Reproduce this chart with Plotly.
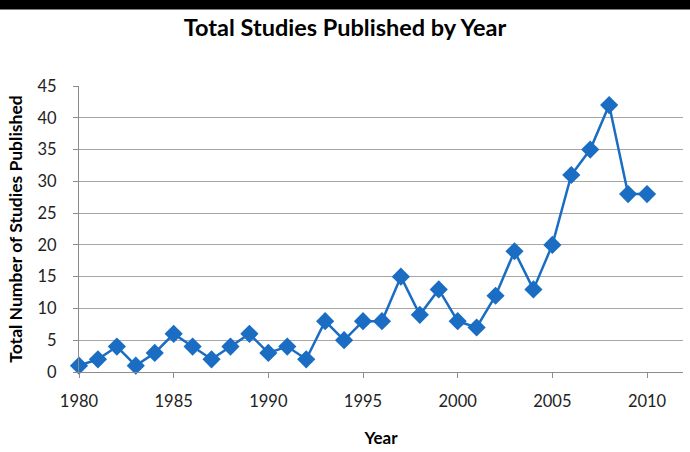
import plotly.graph_objects as go

years = list(range(1980, 2011))
studies = [1, 2, 4, 1, 3, 6, 4, 2, 4, 6, 3, 4, 2, 8, 5, 8, 8, 15, 9, 13,
           8, 7, 12, 19, 13, 20, 31, 35, 42, 28, 28]
x_ticks = [1980, 1985, 1990, 1995, 2000, 2005, 2010]
y_ticks = [0, 5, 10, 15, 20, 25, 30, 35, 40, 45]

BLUE = "#1A6DC3"
FONT = "Lato"

fig = go.Figure()
fig.add_trace(go.Scatter(
    x=years, y=studies, mode="lines+markers",
    line=dict(color=BLUE, width=2.5),
    marker=dict(symbol="diamond", size=14, color=BLUE),
    showlegend=False, cliponaxis=False,
))

L, R, T, B = 79, 7, 86, 78
H = 452
ph = H - T - B

fig.update_layout(
    width=690, height=452,
    margin=dict(l=L, r=R, t=T, b=B),
    paper_bgcolor="white", plot_bgcolor="white",
    title=dict(text="<b>Total Studies Published by Year</b>",
               font=dict(family=FONT, size=23.5, color="black"),
               x=0.5, xanchor="center", y=1 - 28 / H, yanchor="middle"),
    font=dict(family=FONT, size=16, color="#222222"),
    xaxis=dict(range=[1980, 2011.9], tickvals=x_ticks, showgrid=False,
               showline=True, linecolor="#8C8C8C", linewidth=1,
               ticks="outside", ticklen=5, tickcolor="#8C8C8C",
               ticklabelstandoff=9,
               tickfont=dict(family=FONT, size=16.5, color="#222222"),
               title=dict(text="<b>Year</b>", font=dict(family=FONT, size=17, color="black"), standoff=22),
               zeroline=False),
    yaxis=dict(range=[0, 45], tickvals=y_ticks, showgrid=True,
               gridcolor="#A6A6A6", gridwidth=1,
               showline=True, linecolor="#8C8C8C", linewidth=1,
               ticks="outside", ticklen=5, tickcolor="#8C8C8C",
               ticklabelstandoff=13,
               tickfont=dict(family=FONT, size=16.5, color="#222222"),
               title=dict(text="<b>Total Number of Studies Published</b>",
                          font=dict(family=FONT, size=17.5, color="black"), standoff=10),
               zeroline=False),
    shapes=[dict(type="rect", xref="paper", yref="paper",
                 x0=-L / 604 - 0.01, x1=1 + R / 604 + 0.01,
                 y0=1 + (T - 9) / ph, y1=1 + (T + 2) / ph,
                 fillcolor="black", line=dict(width=0), layer="above")],
)

fig.write_html("out.html")
